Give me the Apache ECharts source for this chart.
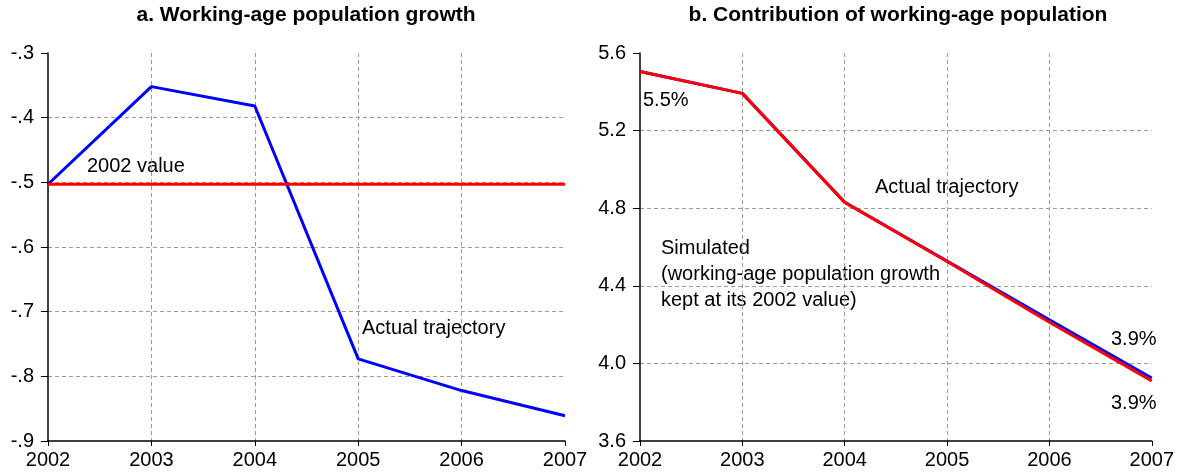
<!DOCTYPE html>
<html>
<head>
<meta charset="utf-8">
<script src="https://cdn.jsdelivr.net/npm/echarts@6/dist/echarts.min.js"></script>
<style>
html,body{margin:0;padding:0;background:#fff;}
#chart{width:1177px;height:474px;}
</style>
</head>
<body>
<div id="chart"></div>
<script>
// ---- data ----
const years = [2002, 2003, 2004, 2005, 2006, 2007];
const growthActual = [-0.503, -0.352, -0.382, -0.773, -0.822, -0.861];
const growth2002 = [-0.503, -0.503, -0.503, -0.503, -0.503, -0.503];
const contribActual = [5.505, 5.392, 4.831, 4.528, 4.225, 3.925];
const contribSimulated = [5.505, 5.392, 4.830, 4.525, 4.212, 3.910];
const titles = ['a. Working-age population growth', 'b. Contribution of working-age population'];

const FONT = "'Liberation Sans', Arial, sans-serif";
const gridStyle = { show: true, showMinLine: false, showMaxLine: false, lineStyle: { color: '#9a9a9a', type: [4, 3], width: 1 } };
const axisLine = { show: true, onZero: false, lineStyle: { color: '#000', width: 1.5 } };

function xAxis(gi) {
  return {
    type: 'value', gridIndex: gi, min: 2002, max: 2007, interval: 1,
    axisLine: axisLine,
    axisTick: { show: true, length: 5, lineStyle: { color: '#000', width: 1 } },
    axisLabel: { color: '#000', fontSize: 20, fontFamily: FONT, margin: 9, formatter: v => String(v) },
    splitLine: gridStyle
  };
}
function yAxis(gi, min, max, interval, fmt) {
  return {
    type: 'value', gridIndex: gi, min: min, max: max, interval: interval,
    axisLine: axisLine,
    axisTick: { show: true, length: 7, lineStyle: { color: '#000', width: 1 } },
    axisLabel: { color: '#000', fontSize: 20, fontFamily: FONT, margin: 14, formatter: fmt },
    splitLine: gridStyle
  };
}
const fmtA = v => { const s = (Math.round(v * 10) / 10).toFixed(1); return s.replace('0.', '.'); };
const fmtB = v => (Math.round(v * 10) / 10).toFixed(1);

const pairs = a => years.map((y, i) => [y, a[i]]);
function line(gi, data, color, z) {
  return { type: 'line', xAxisIndex: gi, yAxisIndex: gi, data: pairs(data), showSymbol: false, symbol: 'none',
    lineStyle: { color: color, width: 3 }, z: z, animation: false };
}
function txt(x, y, s, opts) {
  return Object.assign({ type: 'text', x: x, y: y, silent: true,
    style: Object.assign({ text: s, fill: '#000', font: '20px ' + FONT, textAlign: 'left', textVerticalAlign: 'middle' }, opts || {}) });
}

const chart = echarts.init(document.getElementById('chart'), null, { renderer: 'canvas' });
chart.setOption({
  backgroundColor: '#fff',
  animation: false,
  grid: [
    { left: 48, top: 53, width: 517, height: 388 },
    { left: 640, top: 53, width: 516, height: 388 }
  ],
  xAxis: [xAxis(0), xAxis(1)],
  yAxis: [yAxis(0, -0.9, -0.3, 0.1, fmtA), yAxis(1, 3.6, 5.6, 0.4, fmtB)],
  series: [
    line(0, growthActual, '#0000ff', 3),
    line(0, growth2002, '#ff0000', 4),
    line(1, contribActual, '#0000ff', 3),
    line(1, contribSimulated, '#ff0000', 4)
  ],
  graphic: [
    txt(306, 15, titles[0], { font: 'bold 21px ' + FONT, textAlign: 'center' }),
    txt(898, 15, titles[1], { font: 'bold 21px ' + FONT, textAlign: 'center' }),
    txt(87, 166, '2002 value'),
    txt(362, 328, 'Actual trajectory'),
    txt(643, 100, '5.5%'),
    txt(875, 187, 'Actual trajectory'),
    txt(661, 248, 'Simulated'),
    txt(661, 274, '(working-age population growth'),
    txt(661, 300, 'kept at its 2002 value)'),
    txt(1111, 339, '3.9%'),
    txt(1111, 403, '3.9%')
  ]
});
</script>
</body>
</html>
